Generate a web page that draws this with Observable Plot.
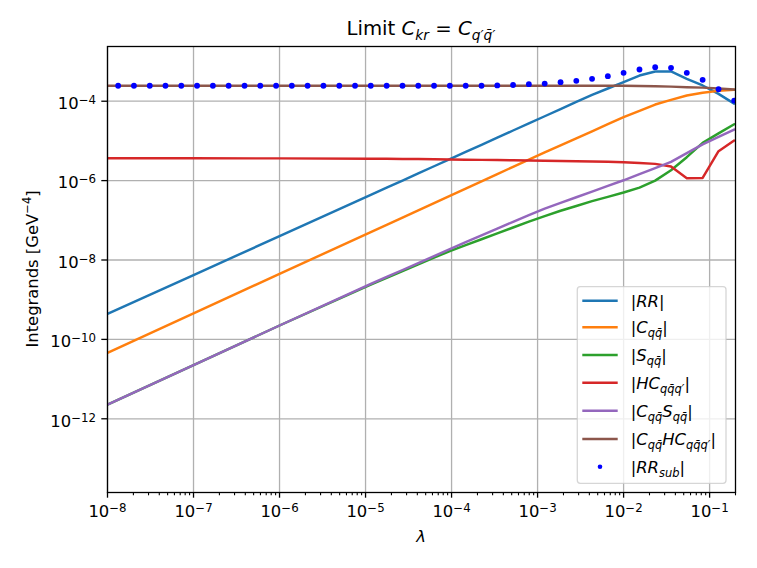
<!DOCTYPE html>
<html>
<head>
<meta charset="utf-8">
<script src="https://cdn.jsdelivr.net/npm/d3@7"></script>
<script src="https://cdn.jsdelivr.net/npm/@observablehq/plot@0.6"></script>
<style>
  body { margin: 0; background: #fff; }
  svg { display: block; }
</style>
</head>
<body>
<div id="chart"></div>
<script>
// ---- data ----
const lamLine = [1e-8, 1e-7, 1e-6,
  1.15e-5, 1.76e-5, 2.69e-5, 4.10e-5, 6.26e-5, 9.55e-5, 1.46e-4, 2.23e-4, 3.40e-4, 5.19e-4, 7.92e-4,
  1.21e-3, 1.85e-3, 2.82e-3, 4.30e-3, 6.56e-3, 1.00e-2, 1.53e-2, 2.33e-2, 3.56e-2, 5.43e-2, 8.30e-2, 1.27e-1, 1.93e-1];

const valRR = [4.38e-10, 4.18e-9, 3.99e-8,
  4.39e-7, 6.64e-7, 1.00e-6, 1.52e-6, 2.30e-6, 3.48e-6, 5.27e-6, 7.98e-6, 1.21e-5, 1.83e-5, 2.77e-5,
  4.18e-5, 6.34e-5, 9.59e-5, 1.45e-4, 2.09e-4, 3.01e-4, 4.43e-4, 5.62e-4, 5.62e-4, 3.67e-4, 2.49e-4, 1.53e-4, 8.71e-5];

const valC = [4.60e-11, 4.53e-10, 4.46e-9,
  5.06e-8, 7.69e-8, 1.17e-7, 1.78e-7, 2.72e-7, 4.12e-7, 6.28e-7, 9.57e-7, 1.46e-6, 2.22e-6, 3.37e-6,
  5.13e-6, 7.76e-6, 1.16e-5, 1.75e-5, 2.64e-5, 3.95e-5, 5.71e-5, 8.26e-5, 1.08e-4, 1.39e-4, 1.63e-4, 1.82e-4, 1.94e-4];

const valS = [2.26e-12, 2.25e-11, 2.24e-10,
  2.41e-9, 3.56e-9, 5.24e-9, 7.73e-9, 1.14e-8, 1.68e-8, 2.37e-8, 3.33e-8, 4.67e-8, 6.58e-8, 9.23e-8,
  1.27e-7, 1.74e-7, 2.29e-7, 3.03e-7, 3.90e-7, 5.01e-7, 6.68e-7, 1.00e-6, 1.82e-6, 3.89e-6, 8.91e-6, 1.55e-5, 2.63e-5];

const valHC = [3.66e-6, 3.65e-6, 3.63e-6,
  3.57e-6, 3.55e-6, 3.52e-6, 3.49e-6, 3.45e-6, 3.41e-6, 3.37e-6, 3.33e-6, 3.29e-6, 3.25e-6, 3.21e-6,
  3.17e-6, 3.13e-6, 3.08e-6, 3.03e-6, 2.97e-6, 2.90e-6, 2.78e-6, 2.64e-6, 2.26e-6, 1.15e-6, 1.17e-6, 5.50e-6, 1.02e-5];

const valCS = [2.26e-12, 2.25e-11, 2.24e-10,
  2.49e-9, 3.74e-9, 5.60e-9, 8.40e-9, 1.26e-8, 1.88e-8, 2.81e-8, 4.17e-8, 6.18e-8, 9.18e-8, 1.36e-7,
  1.97e-7, 2.74e-7, 3.81e-7, 5.30e-7, 7.36e-7, 1.02e-6, 1.46e-6, 2.07e-6, 2.97e-6, 4.93e-6, 8.18e-6, 1.26e-5, 1.93e-5];

const valCHC = [2.45e-4, 2.45e-4, 2.45e-4,
  2.45e-4, 2.45e-4, 2.45e-4, 2.45e-4, 2.45e-4, 2.45e-4, 2.45e-4, 2.45e-4, 2.45e-4, 2.45e-4, 2.45e-4,
  2.45e-4, 2.45e-4, 2.45e-4, 2.45e-4, 2.45e-4, 2.45e-4, 2.42e-4, 2.38e-4, 2.33e-4, 2.26e-4, 2.20e-4, 2.10e-4, 1.97e-4];

const lamDots = [1.33e-8, 2.03e-8, 3.10e-8, 4.72e-8, 7.21e-8, 1.10e-7, 1.68e-7, 2.56e-7, 3.92e-7, 5.97e-7,
  9.12e-7, 1.39e-6, 2.12e-6, 3.24e-6, 4.95e-6, 7.55e-6, 1.15e-5, 1.76e-5, 2.69e-5, 4.10e-5,
  6.26e-5, 9.55e-5, 1.46e-4, 2.23e-4, 3.40e-4, 5.19e-4, 7.92e-4, 1.21e-3, 1.85e-3, 2.82e-3,
  4.30e-3, 6.56e-3, 1.00e-2, 1.53e-2, 2.33e-2, 3.56e-2, 5.43e-2, 8.30e-2, 1.27e-1, 1.93e-1];

const valRRsub = [2.45e-4, 2.45e-4, 2.45e-4, 2.45e-4, 2.45e-4, 2.45e-4, 2.45e-4, 2.45e-4, 2.45e-4, 2.45e-4,
  2.45e-4, 2.45e-4, 2.45e-4, 2.45e-4, 2.45e-4, 2.45e-4, 2.45e-4, 2.45e-4, 2.45e-4, 2.45e-4,
  2.45e-4, 2.45e-4, 2.45e-4, 2.45e-4, 2.50e-4, 2.56e-4, 2.68e-4, 2.79e-4, 3.01e-4, 3.27e-4,
  3.67e-4, 4.27e-4, 5.19e-4, 6.29e-4, 7.19e-4, 6.95e-4, 5.19e-4, 3.46e-4, 2.00e-4, 1.04e-4];

const seriesNames = ["RR", "Cqq", "Sqq", "HC", "CS", "CHC"];
const seriesColors = ["#1f77b4", "#ff7f0e", "#2ca02c", "#d62728", "#9467bd", "#8c564b"];
const dotColor = "#0000ff";

const xMajorTicks = [1e-8, 1e-7, 1e-6, 1e-5, 1e-4, 1e-3, 1e-2, 1e-1];
const yMajorTicks = [1e-12, 1e-10, 1e-8, 1e-6, 1e-4];

// legend labels: [text, kind]  kind: r = upright, i = italic, s = italic subscript
const legendLabels = [
  [["|", "r"], ["RR", "i"], ["|", "r"]],
  [["|", "r"], ["C", "i"], ["qq\u0304", "s"], ["|", "r"]],
  [["|", "r"], ["S", "i"], ["qq\u0304", "s"], ["|", "r"]],
  [["|", "r"], ["HC", "i"], ["qq\u0304q\u2032", "s"], ["|", "r"]],
  [["|", "r"], ["C", "i"], ["qq\u0304", "s"], ["S", "i"], ["qq\u0304", "s"], ["|", "r"]],
  [["|", "r"], ["C", "i"], ["qq\u0304", "s"], ["HC", "i"], ["qq\u0304q\u2032", "s"], ["|", "r"]],
  [["|", "r"], ["RR", "i"], ["sub", "s"], ["|", "r"]]
];

// ---- tables ----
const seriesValues = [valRR, valC, valS, valHC, valCS, valCHC];
const lineTable = seriesNames.flatMap((name, k) =>
  lamLine.map((lam, i) => ({lam, val: seriesValues[k][i], series: name})));
const dotTable = lamDots.map((lam, i) => ({lam, val: valRRsub[i]}));

const xMinorTicks = [];
for (let e = -8; e <= -1; e++) for (let m = 2; m <= 9; m++) {
  const v = m * Math.pow(10, e);
  if (v <= 0.2) xMinorTicks.push(v);
}

const fmt = d => "10^" + Math.round(Math.log10(d));

const plot = Plot.plot({
  width: 757,
  height: 568,
  marginLeft: 107,
  marginRight: 22,
  marginTop: 46,
  marginBottom: 76,
  style: {fontFamily: "DejaVu Sans", fontSize: "16.4px", background: "white", color: "black"},
  x: {type: "log", domain: [1e-8, 0.2]},
  y: {type: "log", domain: [1.39e-14, 2.39e-3]},
  color: {domain: seriesNames, range: seriesColors},
  marks: [
    Plot.gridX(xMajorTicks, {stroke: "#b0b0b0", strokeOpacity: 1, strokeWidth: 1.3}),
    Plot.gridY(yMajorTicks, {stroke: "#b0b0b0", strokeOpacity: 1, strokeWidth: 1.3}),
    Plot.line(lineTable, {x: "lam", y: "val", z: "series", stroke: "series", strokeWidth: 2.45, clip: true}),
    Plot.dot(dotTable, {x: "lam", y: "val", r: 2.9, fill: dotColor, stroke: "none", clip: true}),
    Plot.axisX(xMinorTicks, {tickSize: 3.3, strokeWidth: 1.1, tickFormat: () => "", label: null}),
    Plot.axisX(xMajorTicks, {tickSize: 5.7, tickPadding: 7.5, strokeWidth: 1.3, tickFormat: fmt, label: null}),
    Plot.axisY(yMajorTicks, {tickSize: 5.7, tickPadding: 5.7, strokeWidth: 1.3, tickFormat: fmt, label: null}),
    Plot.frame({stroke: "black", strokeWidth: 1.3})
  ]
});

document.getElementById("chart").appendChild(plot);
const svg = d3.select(plot);

// superscript exponents in tick labels
svg.selectAll('g[aria-label="x-axis tick label"] text, g[aria-label="y-axis tick label"] text').each(function () {
  const m = this.textContent.match(/^10\^(-?\d+)$/);
  if (!m) return;
  const t = d3.select(this);
  t.text("10");
  t.append("tspan").attr("dy", "-0.42em").attr("font-size", "0.72em").text(m[1].replace("-", "\u2212"));
});
const yl = svg.select('g[aria-label="y-axis tick label"]');
yl.attr("transform", (yl.attr("transform") || "") + " translate(0,2.5)");

// helper to write mixed math text
function mathText(parent, parts, fontSize) {
  let shifted = 0;
  const sub = Math.round(fontSize * 0.25);
  for (const [s, kind] of parts) {
    const ts = parent.append("tspan").text(s);
    if (kind === "i" || kind === "s") ts.attr("font-style", "italic");
    if (kind === "s") {
      ts.attr("font-size", fontSize * 0.7).attr("dy", sub - shifted);
      shifted = sub;
    } else if (kind === "p") {
      ts.attr("font-size", fontSize * 0.7).attr("dy", -0.42 * fontSize - shifted);
      shifted = -0.42 * fontSize;
    } else {
      if (shifted !== 0) ts.attr("dy", -shifted);
      shifted = 0;
    }
  }
}

// title
const title = svg.append("text")
  .attr("x", 421).attr("y", 35).attr("text-anchor", "middle")
  .attr("font-family", "DejaVu Sans").attr("font-size", 19.7).attr("fill", "black");
mathText(title, [["Limit ", "r"], ["C", "i"], ["kr", "s"], [" = ", "r"], ["C", "i"], ["q\u2032q\u0304\u2032", "s"]], 19.7);

// x label
svg.append("text")
  .attr("x", 421).attr("y", 541.5).attr("text-anchor", "middle")
  .attr("font-family", "DejaVu Sans").attr("font-size", 16.4).attr("font-style", "italic")
  .attr("fill", "black").text("\u03bb");

// y label
const ylab = svg.append("text")
  .attr("transform", "translate(38,269) rotate(-90)").attr("text-anchor", "middle")
  .attr("font-family", "DejaVu Sans").attr("font-size", 16.4).attr("fill", "black");
mathText(ylab, [["Integrands [GeV", "r"], ["\u22124", "p"], ["]", "r"]], 16.4);

// legend
const lg = svg.append("g").attr("font-family", "DejaVu Sans").attr("font-size", 16.4).attr("text-anchor", "start");
lg.append("rect")
  .attr("x", 577.3).attr("y", 286.7).attr("width", 148.7).attr("height", 196.6).attr("rx", 3)
  .attr("fill", "white").attr("fill-opacity", 0.8)
  .attr("stroke", "#cccccc").attr("stroke-opacity", 0.8).attr("stroke-width", 1.3);
const rowY = [300.7, 327.3, 355, 382.7, 410.7, 439, 466.7];
legendLabels.forEach((parts, i) => {
  const cy = rowY[i];
  if (i < seriesColors.length) {
    lg.append("line").attr("x1", 582.3).attr("x2", 617.7).attr("y1", cy).attr("y2", cy)
      .attr("stroke", seriesColors[i]).attr("stroke-width", 2.45);
  } else {
    lg.append("circle").attr("cx", 600).attr("cy", cy).attr("r", 2.3).attr("fill", dotColor);
  }
  const t = lg.append("text").attr("x", 630.7).attr("y", cy + 5.8)
    .attr("text-anchor", "start").attr("fill", "black");
  mathText(t, parts, 16.4);
});
</script>
</body>
</html>
